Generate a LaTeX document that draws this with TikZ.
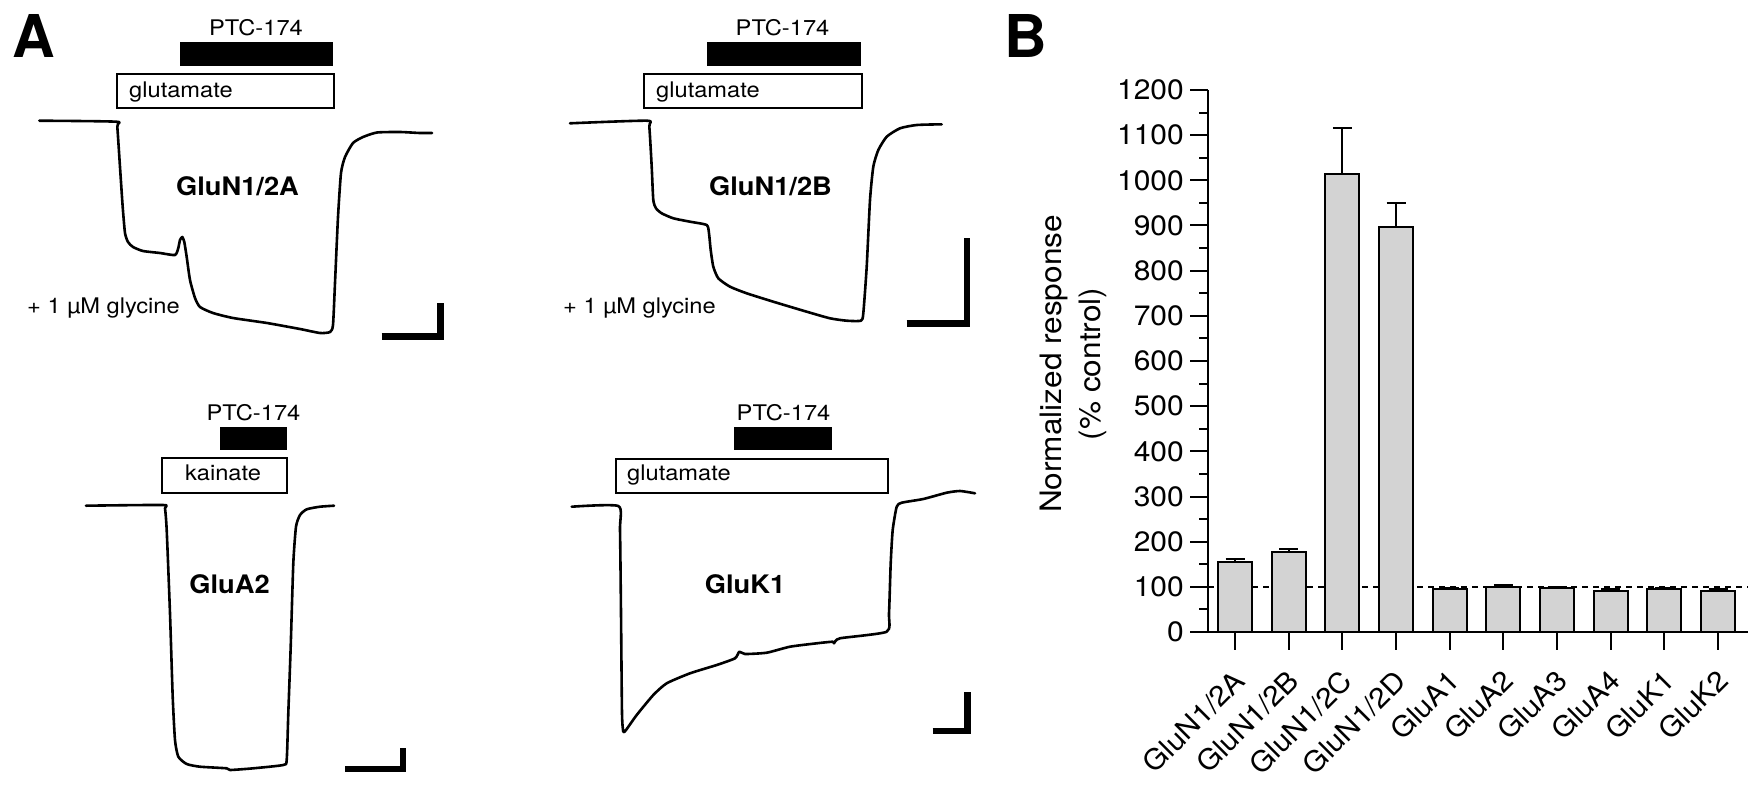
\documentclass[tikz,border=0pt]{standalone}
\usepackage{fontspec}
\setmainfont{TeX Gyre Heros}
\usepackage{graphicx}
\definecolor{barfill}{RGB}{211,211,211}
\newcommand{\hsA}[1]{\scalebox{1.1}[1]{#1}}
\newcommand{\hsB}[1]{\scalebox{1.07}[1]{#1}}
\begin{document}
\begin{tikzpicture}[x=1pt,y=-1pt,
  trace/.style={line width=2.6pt, line join=round, line cap=round},
  appbox/.style={draw, line width=1.4pt, fill=white},
  drugbar/.style={fill=black},
  scalebar/.style={line width=6.5pt, line join=miter},
  smalltxt/.style={font=\fontsize{21.5}{24}\selectfont, inner sep=0pt},
  celltxt/.style={font=\fontsize{25.5}{28}\selectfont\bfseries, inner sep=0pt},
  paneltxt/.style={font=\fontsize{59}{62}\selectfont\bfseries, inner sep=0pt},
  ticktxt/.style={font=\fontsize{28}{30}\selectfont, inner sep=0pt},
  ylabtxt/.style={font=\fontsize{29.5}{32}\selectfont, inner sep=0pt},
  databar/.style={draw, line width=2pt, fill=barfill},
  axisline/.style={line width=2pt},
  errline/.style={line width=2pt}
]
\useasboundingbox (0,0) rectangle (1762,785);

% ---------- Panel letters ----------
\node[paneltxt, anchor=base west] (labA) at (12,57) {A};
\node[paneltxt, anchor=base west] (labB) at (1004,57) {B};

% ---------- Panel A1 : GluN1/2A ----------
\fill[drugbar] (180,42) rectangle (333,66);
\node[smalltxt, anchor=base] (ptc1) at (256,35) {\hsA{PTC-174}};
\draw[appbox] (117,74) rectangle (334,108);
\node[smalltxt, anchor=base west] (glu1) at (129,97) {\hsA{glutamate}};
\draw[trace] plot[smooth, tension=0.35] coordinates {
 (39.3,120.7) (116,121.7) (117.3,126.7) (120,167) (122.7,207) (125,233) (128,242) (133,247)
 (143,251) (160,253) (175,255) (178.3,248) (180,240) (182.3,237) (184.3,242) (186.7,257)
 (190,280) (195,298) (200,307) (213,313) (233,318) (267,323) (300,329) (320,333) (330,332)
 (333,325) (335,283) (338,217) (341,173) (345,157) (353,143) (363,137) (377,132.5)
 (400,132) (420,133) (432,133)};
\node[celltxt, anchor=base] (n2a) at (237.5,195) {\hsB{GluN1/2A}};
\node[smalltxt, anchor=base west] (gly1) at (27,313) {\hsA{+ 1 µM glycine}};
\draw[scalebar] (381.7,336.5) -- (440.5,336.5) -- (440.5,303);

% ---------- Panel A2 : GluN1/2B ----------
\fill[drugbar] (707,42) rectangle (861,66);
\node[smalltxt, anchor=base] (ptc2) at (782.5,35) {\hsA{PTC-174}};
\draw[appbox] (644,74) rectangle (862,108);
\node[smalltxt, anchor=base west] (glu2) at (656,97) {\hsA{glutamate}};
\draw[trace] plot[smooth, tension=0.35] coordinates {
 (570,123.3) (646.7,120.7) (649.3,126.7) (651.7,166.7) (653.3,200) (656,208.3) (661.7,213.3)
 (673.3,218.3) (690,221.7) (706.7,225) (709,233.3) (710.7,250) (713.3,266.7) (718.3,278.3)
 (730,286.7) (746.7,293.3) (773.3,301.7) (806.7,311.7) (830,318.3) (846.7,320.7) (861,320.7)
 (863.3,313.3) (866.7,266.7) (870,200) (873.3,166.7) (878.3,150) (886.7,136.7) (900,128.3)
 (916.7,125) (941.7,124.3)};
\node[celltxt, anchor=base] (n2b) at (770.5,195) {\hsB{GluN1/2B}};
\node[smalltxt, anchor=base west] (gly2) at (563,313) {\hsA{+ 1 µM glycine}};
\draw[scalebar] (906.7,323.3) -- (967,323.3) -- (967,238.3);

% ---------- Panel A3 : GluA2 ----------
\fill[drugbar] (220,427) rectangle (287,450);
\node[smalltxt, anchor=base] (ptc3) at (253.5,420) {\hsA{PTC-174}};
\draw[appbox] (162,458) rectangle (287,493);
\node[smalltxt, anchor=base] (kai3) at (223,480) {\hsA{kainate}};
\draw[trace] plot[smooth, tension=0.35] coordinates {
 (86,505.7) (162.7,505) (165,508.3) (166.7,530) (170,613.3) (172.7,696.7) (175,740)
 (178.3,756.7) (186.7,764) (200,766.7) (226.7,768.3) (230,770) (253.3,768.3) (283.3,765)
 (286.7,760) (288.3,713.3) (290.7,646.7) (293.3,563.3) (296,526.7) (300,515) (306.7,509.3)
 (320,506.7) (334,505.7)};
\node[celltxt, anchor=base] (a2) at (229.5,593.3) {\hsB{GluA2}};
\draw[scalebar] (345,768.8) -- (403,768.8) -- (403,748.3);

% ---------- Panel A4 : GluK1 ----------
\fill[drugbar] (734,427) rectangle (832,450);
\node[smalltxt, anchor=base] (ptc4) at (783.5,420) {\hsA{PTC-174}};
\draw[appbox] (616,459) rectangle (888,493);
\node[smalltxt, anchor=base west] (glu4) at (627,480) {\hsA{glutamate}};
\draw[trace] plot[smooth, tension=0.35] coordinates {
 (571.7,506.7) (618.3,506) (620,530) (621,613.3) (622,713.3) (623.3,731.7) (626,730)
 (636.7,715) (653.3,695) (666.7,683.3) (690,673.3) (716.7,665) (735,658.3) (739.3,651.7)
 (745,654) (766.7,652.7) (790,646.7) (816.7,643.3) (832.7,641.7) (834,643.3) (840,638.3)
 (886.7,631.7) (889,613.3) (890.7,563.3) (892.7,530) (896.7,506.7) (901.7,502.7)
 (923.3,499) (946.7,492.7) (960,491) (975,493.3)};
\node[celltxt, anchor=base] (k1) at (745,593.3) {\hsB{GluK1}};
\draw[scalebar] (932.7,731) -- (967.3,731) -- (967.3,691.7);

% ---------- Panel B : bar chart ----------
\draw[line width=1.8pt, dash pattern=on 6pt off 5pt] (1208,587) -- (1748,587);
\foreach \c/\t/\e in {1235/562/559, 1288.7/552/549, 1342.3/174/128, 1396/227/203,
  1449.7/589/587.5, 1503.3/587/585, 1557/588/586.5, 1610.7/591/589, 1664.3/589/588, 1718/591/589}{
  \draw[databar] (\c-17,632) rectangle (\c+17,\t);
  \draw[errline] (\c,\t) -- (\c,\e);
  \draw[errline] (\c-9.5,\e) -- (\c+9.5,\e);
  \draw[axisline] (\c,632) -- (\c,650);
}
% axes
\draw[axisline] (1208,90) -- (1208,632);
\draw[axisline] (1190,632) -- (1748,632);
\foreach \v in {100,200,...,1200}{
  \draw[axisline] (1190,632-0.45167*\v) -- (1208,632-0.45167*\v);
}
\foreach \v in {50,150,...,1150}{
  \draw[axisline] (1199,632-0.45167*\v) -- (1208,632-0.45167*\v);
}
\foreach \v in {0,100,...,1200}{
  \node[ticktxt, anchor=east] (yt\v) at (1184,632-0.45167*\v) {\hsB{\v}};
}
% x labels
\foreach \c/\lab [count=\k] in {1235/GluN1\slash 2A, 1288.7/GluN1\slash 2B, 1342.3/GluN1\slash 2C,
  1396/GluN1\slash 2D, 1449.7/GluA1, 1503.3/GluA2, 1557/GluA3, 1610.7/GluA4, 1664.3/GluK1, 1718/GluK2}{
  \node[ticktxt, rotate=45, anchor=north east] (xl\k) at (\c-3,668) {\hsB{\lab}};
}
% y label
\node[ylabtxt, rotate=90, anchor=base] (ylab1) at (1061.5,364) {\hsB{Normalized response}};
\node[ylabtxt, rotate=90, anchor=base] (ylab2) at (1100,364) {\hsB{(\% control)}};
\end{tikzpicture}
\end{document}
